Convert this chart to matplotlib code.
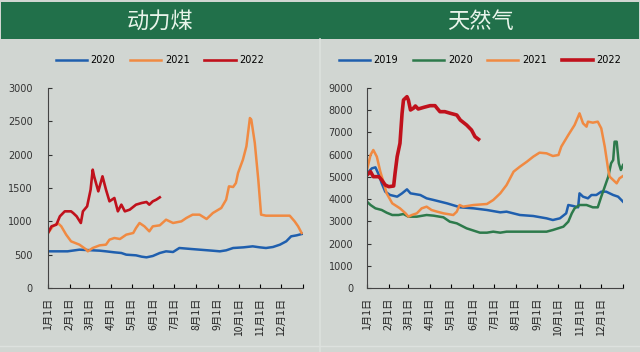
import matplotlib.pyplot as plt
from matplotlib.patches import Rectangle
from matplotlib.lines import Line2D

plt.rcParams['font.family'] = ['DejaVu Sans', 'Noto Sans CJK SC']

# 动力煤 (day of year, value)
coal_2020_x = [0, 15, 28, 45, 64, 74, 83, 95, 105, 112, 126, 134, 141, 150, 160, 169, 179, 188, 205, 217, 235, 246, 255, 265, 280, 293, 303, 312, 322, 332, 341, 348, 356, 365]
coal_2020_y = [550, 550, 550, 575, 565, 560, 550, 535, 525, 500, 490, 470, 460, 480, 525, 550, 540, 600, 585, 575, 560, 550, 565, 600, 610, 625, 610, 600, 615, 650, 700, 775, 790, 815]

coal_2021_x = [0, 7, 14, 19, 26, 33, 45, 55, 57, 64, 74, 83, 88, 95, 103, 112, 122, 126, 131, 138, 145, 150, 160, 169, 179, 191, 198, 207, 217, 227, 236, 248, 255, 259, 265, 269, 272, 279, 284, 289, 291, 296, 301, 305, 312, 346, 353, 358, 363]
coal_2021_y = [825, 925, 975, 925, 800, 700, 650, 575, 550, 600, 640, 650, 725, 750, 735, 800, 825, 900, 975, 925, 850, 925, 940, 1025, 975, 1000, 1050, 1100, 1100, 1035, 1125, 1200, 1325, 1525, 1515, 1575, 1725, 1925, 2125, 2550, 2525, 2175, 1625, 1100, 1085, 1085, 1000, 925, 825]

coal_2022_x = [0, 5, 12, 17, 24, 33, 36, 41, 47, 50, 56, 61, 64, 66, 72, 78, 83, 88, 95, 100, 105, 110, 117, 126, 134, 141, 145, 150, 155, 160]
coal_2022_y = [825, 925, 950, 1075, 1150, 1150, 1125, 1075, 975, 1150, 1225, 1475, 1775, 1675, 1450, 1675, 1475, 1300, 1350, 1150, 1250, 1150, 1175, 1250, 1275, 1290, 1250, 1300, 1325, 1360]

# 天然气
gas_2019_x = [0, 7, 12, 17, 21, 26, 33, 43, 50, 57, 62, 76, 85, 95, 114, 133, 152, 171, 190, 199, 218, 237, 256, 265, 275, 284, 287, 294, 301, 303, 308, 315, 320, 327, 334, 341, 351, 358, 365]
gas_2019_y = [5160, 5385, 5430, 5085, 4710, 4335, 4185, 4110, 4260, 4440, 4260, 4185, 4035, 3960, 3810, 3630, 3585, 3510, 3405, 3435, 3285, 3240, 3135, 3060, 3135, 3360, 3735, 3690, 3630, 4260, 4110, 4035, 4185, 4185, 4335, 4335, 4185, 4110, 3885]

gas_2020_x = [0, 5, 12, 21, 28, 36, 45, 52, 59, 71, 85, 95, 109, 118, 128, 142, 161, 171, 180, 190, 199, 218, 256, 265, 280, 287, 292, 296, 303, 313, 322, 329, 334, 339, 344, 348, 351, 353, 356, 359, 362, 365]
gas_2020_y = [3885, 3735, 3585, 3510, 3390, 3285, 3285, 3330, 3210, 3210, 3285, 3255, 3180, 2985, 2910, 2685, 2490, 2490, 2535, 2490, 2535, 2535, 2535, 2610, 2760, 2985, 3360, 3585, 3735, 3735, 3630, 3630, 4110, 4560, 5010, 5610, 5760, 6585, 6585, 5610, 5310, 5535]

gas_2021_x = [0, 5, 9, 14, 19, 24, 28, 36, 47, 55, 59, 64, 71, 78, 85, 92, 100, 109, 123, 128, 132, 137, 152, 171, 180, 190, 199, 209, 218, 228, 237, 246, 256, 265, 273, 277, 287, 296, 303, 308, 313, 315, 322, 329, 334, 339, 344, 346, 351, 356, 360, 365]
gas_2021_y = [5310, 5985, 6210, 5910, 5235, 4710, 4260, 3810, 3585, 3360, 3210, 3285, 3360, 3585, 3660, 3510, 3435, 3360, 3285, 3435, 3735, 3660, 3735, 3780, 3960, 4260, 4635, 5235, 5460, 5685, 5910, 6090, 6060, 5940, 5985, 6360, 6885, 7335, 7860, 7410, 7260, 7485, 7440, 7485, 7185, 6360, 5310, 5010, 4860, 4710, 4935, 5040]

gas_2022_x = [0, 5, 9, 17, 21, 26, 31, 38, 40, 43, 47, 50, 52, 57, 59, 62, 66, 69, 73, 81, 90, 97, 100, 104, 111, 119, 128, 133, 142, 149, 154, 159]
gas_2022_y = [5085, 5235, 5010, 5010, 4860, 4635, 4560, 4590, 5160, 5910, 6510, 7860, 8460, 8610, 8460, 8010, 8085, 8190, 8055, 8130, 8205, 8205, 8085, 7935, 7935, 7860, 7785, 7560, 7335, 7110, 6810, 6690]

month_days = [0, 31, 59, 90, 120, 151, 181, 212, 243, 273, 304, 334, 365]
month_labels = [f'{m}月1日' for m in range(1, 13)] + ['']

bg = '#d1d6d2'
green = '#21704a'
c_blue = '#1f5fae'
c_orange = '#f08a42'
c_red = '#c0111c'
c_green = '#2d7a4b'

W, H = 640, 352
fig = plt.figure(figsize=(6.4, 3.52), dpi=100, facecolor=bg)

# title banners and separators
fig.patches.append(Rectangle((1 / W, 1 - 39 / H), 638 / W, 37 / H, transform=fig.transFigure,
                             facecolor=green, edgecolor='none', zorder=0))
fig.add_artist(Line2D([320 / W, 320 / W], [0, 1 - 39 / H], transform=fig.transFigure,
                      color='#dde1de', lw=1.2))
fig.add_artist(Line2D([0, 1], [1 - 346 / H, 1 - 346 / H], transform=fig.transFigure,
                      color='#dde1de', lw=1.0))
fig.text(160 / W, 1 - 21 / H, '动力煤', ha='center', va='center', fontsize=16,
         color='#e8f4ea', family=['Noto Sans CJK SC'])
fig.text(480 / W, 1 - 21 / H, '天然气', ha='center', va='center', fontsize=16,
         color='#e8f4ea', family=['Noto Sans CJK SC'])


def style_axis(ax, ymax, ystep, ypad):
    ax.set_facecolor(bg)
    ax.set_xlim(0, 365)
    ax.set_ylim(0, ymax)
    ax.set_yticks(range(0, ymax + 1, ystep))
    ax.set_xticks(month_days)
    ax.set_xticklabels(month_labels, rotation=90, fontsize=7.5,
                       family=['Noto Sans CJK SC'], color='#222222')
    ax.tick_params(axis='y', direction='in', length=3, labelsize=7, colors='#333333',
                   pad=ypad)
    ax.tick_params(axis='x', direction='in', length=3, pad=7)
    for s in ['top', 'right']:
        ax.spines[s].set_visible(False)
    for s in ['left', 'bottom']:
        ax.spines[s].set_color('#444444')
        ax.spines[s].set_linewidth(0.8)


ax1 = fig.add_axes([48 / W, 1 - 288 / H, 255 / W, 200 / H])
ax1.plot(coal_2020_x, coal_2020_y, color=c_blue, lw=1.8, label='2020')
ax1.plot(coal_2021_x, coal_2021_y, color=c_orange, lw=1.8, label='2021')
ax1.plot(coal_2022_x, coal_2022_y, color=c_red, lw=1.9, label='2022')
style_axis(ax1, 3000, 500, 11)
fig.legend(handles=ax1.get_lines(), loc='center', bbox_to_anchor=(160 / W, 1 - 60 / H),
           ncol=3, frameon=False, fontsize=7, handlelength=3.2, handletextpad=0.4,
           columnspacing=1.5)

ax2 = fig.add_axes([367 / W, 1 - 288 / H, 256 / W, 200 / H])
ax2.plot(gas_2019_x, gas_2019_y, color=c_blue, lw=1.8, label='2019')
ax2.plot(gas_2020_x, gas_2020_y, color=c_green, lw=1.8, label='2020')
ax2.plot(gas_2021_x, gas_2021_y, color=c_orange, lw=1.8, label='2021')
ax2.plot(gas_2022_x, gas_2022_y, color=c_red, lw=2.6, label='2022')
style_axis(ax2, 9000, 1000, 10)
fig.legend(handles=ax2.get_lines(), loc='center', bbox_to_anchor=(480 / W, 1 - 60 / H),
           ncol=4, frameon=False, fontsize=7, handlelength=3.2, handletextpad=0.4,
           columnspacing=1.5)

fig.savefig('out.png', dpi=100, facecolor=bg)
